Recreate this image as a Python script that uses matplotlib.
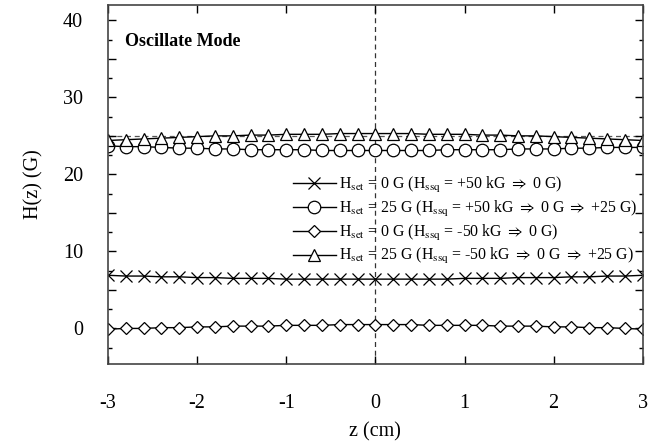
import numpy as np
import matplotlib.pyplot as plt
from matplotlib.ticker import MultipleLocator, FuncFormatter

plt.rcParams['font.family'] = ['Liberation Serif', 'DejaVu Serif']
plt.rcParams['mathtext.fontset'] = 'stix'
plt.rcParams['axes.unicode_minus'] = False

# axial position (cm), 0.2 cm steps
z = [-3.0, -2.8, -2.6, -2.4, -2.2, -2.0, -1.8, -1.6, -1.4, -1.2, -1.0,
     -0.8, -0.6, -0.4, -0.2, 0.0, 0.2, 0.4, 0.6, 0.8, 1.0,
     1.2, 1.4, 1.6, 1.8, 2.0, 2.2, 2.4, 2.6, 2.8, 3.0]

# H(z) in G for each preparation sequence
h_set0_pos = [6.9, 6.8, 6.8, 6.7, 6.7, 6.6, 6.6, 6.5, 6.5, 6.5, 6.4,
              6.4, 6.4, 6.4, 6.4, 6.4, 6.4, 6.4, 6.4, 6.4, 6.5,
              6.5, 6.5, 6.6, 6.6, 6.6, 6.7, 6.7, 6.8, 6.8, 6.9]
h_set25_pos = [23.7, 23.6, 23.6, 23.5, 23.4, 23.4, 23.3, 23.3, 23.2, 23.2, 23.2,
               23.2, 23.1, 23.1, 23.1, 23.1, 23.1, 23.1, 23.1, 23.2, 23.2,
               23.2, 23.2, 23.3, 23.3, 23.3, 23.4, 23.4, 23.5, 23.5, 23.5]
h_set0_neg = [-0.1, 0.0, 0.0, 0.1, 0.1, 0.2, 0.2, 0.3, 0.3, 0.3, 0.4,
              0.4, 0.4, 0.5, 0.5, 0.5, 0.5, 0.5, 0.4, 0.4, 0.4,
              0.4, 0.3, 0.3, 0.3, 0.2, 0.2, 0.1, 0.1, 0.0, -0.1]
h_set25_neg = [24.4, 24.5, 24.6, 24.7, 24.8, 24.9, 25.0, 25.0, 25.1, 25.1, 25.2,
               25.2, 25.2, 25.3, 25.3, 25.3, 25.3, 25.3, 25.2, 25.2, 25.2,
               25.1, 25.1, 25.0, 25.0, 24.9, 24.8, 24.7, 24.6, 24.5, 24.4]
h_target = 25.0

labels = [
    r'H$_{\rm set}$ = 0 G (H$_{\rm ssq}$ = +50 kG $\Rightarrow$ 0 G)',
    r'H$_{\rm set}$ = 25 G (H$_{\rm ssq}$ = +50 kG $\Rightarrow$ 0 G $\Rightarrow$ +25 G)',
    r'H$_{\rm set}$ = 0 G (H$_{\rm ssq}$ = -50 kG $\Rightarrow$ 0 G)',
    r'H$_{\rm set}$ = 25 G (H$_{\rm ssq}$ = -50 kG $\Rightarrow$ 0 G $\Rightarrow$ +25 G)',
]

fig = plt.figure(figsize=(6.62, 4.47), dpi=100)
ax = fig.add_axes([0.163, 0.186, 0.808, 0.803])

ax.axhline(h_target, color='#555555', lw=0.9, ls=(0, (4, 3)), zorder=1)
ax.axvline(0, color='#333333', lw=0.9, ls=(0, (4, 3)), zorder=1)

style = dict(color='black', lw=1.0, mfc='white', mec='black', mew=0.9)
ax.plot(z, h_set0_pos, marker='x', ms=9, label=labels[0], **style)
ax.plot(z, h_set25_pos, marker='o', ms=9, label=labels[1], **style)
ax.plot(z, h_set0_neg, marker='D', ms=6.5, label=labels[2], **style)
ax.plot(z, h_set25_neg, marker='^', ms=8, label=labels[3], **style)

ax.set_xlim(-3, 3)
ax.set_ylim(-4.6, 42)
ax.xaxis.set_major_locator(MultipleLocator(1))
ax.yaxis.set_major_locator(MultipleLocator(5))
ax.yaxis.set_minor_locator(MultipleLocator(2.5))
ax.yaxis.set_major_formatter(FuncFormatter(lambda v, p: f'{v:.0f}' if v % 10 == 0 else ''))
ax.tick_params(which='both', direction='in', top=True, right=True, labelsize=14.5)
ax.tick_params(which='major', length=6, width=1)
ax.tick_params(which='minor', length=3, width=1)
ax.tick_params(axis='x', pad=22)
ax.tick_params(axis='y', pad=18)
for s in ax.spines.values():
    s.set_linewidth(1.2)
    s.set_color('#444444')

ax.set_xlabel('z (cm)', fontsize=14.5, labelpad=6)
ax.set_ylabel('H(z) (G)', fontsize=14.5, labelpad=14)

ax.text(0.032, 0.885, 'Oscillate Mode', transform=ax.transAxes,
        fontsize=13, fontweight='bold')

ax.legend(loc='upper left', bbox_to_anchor=(0.346, 0.526), frameon=False,
          fontsize=11.4, handlelength=2.7, handletextpad=0.2,
          labelspacing=0.24, borderpad=0, borderaxespad=0)

fig.savefig('out.png', dpi=100)
